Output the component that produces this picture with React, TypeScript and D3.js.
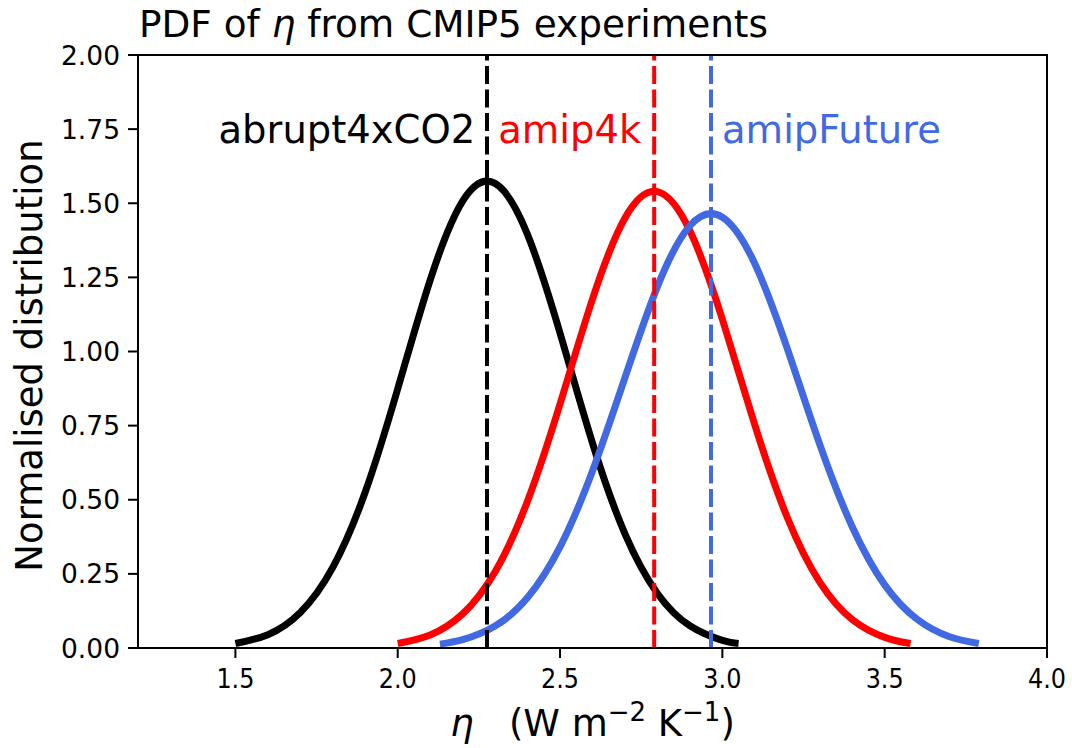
import React from "react";
import * as d3 from "d3";

// Values (x in W m^-2 K^-1, y = normalised distribution)
const abruptX = [1.5, 1.6, 1.7, 1.8, 1.9, 2.0, 2.1, 2.2, 2.3, 2.4, 2.5, 2.6, 2.7, 2.8, 2.9, 3.0, 3.05];
const abruptY = [0.015, 0.045, 0.12, 0.272, 0.526, 0.874, 1.241, 1.507, 1.567, 1.394, 1.062, 0.691, 0.385, 0.184, 0.075, 0.026, 0.015];

const amip4kX = [2.0, 2.1, 2.2, 2.3, 2.4, 2.5, 2.6, 2.7, 2.8, 2.9, 3.0, 3.1, 3.2, 3.3, 3.4, 3.5, 3.58];
const amip4kY = [0.015, 0.044, 0.115, 0.257, 0.496, 0.823, 1.177, 1.45, 1.539, 1.407, 1.109, 0.752, 0.44, 0.222, 0.096, 0.036, 0.015];

const amipFutX = [2.13, 2.2, 2.3, 2.4, 2.5, 2.6, 2.7, 2.8, 2.9, 3.0, 3.1, 3.2, 3.3, 3.4, 3.5, 3.6, 3.7, 3.79];
const amipFutY = [0.013, 0.028, 0.074, 0.17, 0.341, 0.597, 0.912, 1.219, 1.424, 1.453, 1.296, 1.01, 0.687, 0.409, 0.213, 0.097, 0.038, 0.015];

const seriesNames = ["abrupt4xCO2", "amip4k", "amipFuture"];
const seriesMeans = [2.275, 2.79, 2.965];
const seriesColors = ["#000000", "#ff0000", "#4169e1"];

const xTicks = [1.5, 2.0, 2.5, 3.0, 3.5, 4.0];
const yTicks = [0, 0.25, 0.5, 0.75, 1.0, 1.25, 1.5, 1.75, 2.0];

const W = 1072;
const H = 748;
const left = 138;
const right = 1047;
const top = 55;
const bottom = 648;
const FONT = "DejaVu Sans";

export default function App() {
  const x = d3.scaleLinear().domain([1.2, 4.0]).range([left, right]);
  const y = d3.scaleLinear().domain([0, 2]).range([bottom, top]);

  const line = d3
    .line<[number, number]>()
    .x((d) => x(d[0]))
    .y((d) => y(d[1]))
    .curve(d3.curveNatural);

  const series = [
    abruptX.map((v, i) => [v, abruptY[i]] as [number, number]),
    amip4kX.map((v, i) => [v, amip4kY[i]] as [number, number]),
    amipFutX.map((v, i) => [v, amipFutY[i]] as [number, number]),
  ];

  const labelY = 1.75;
  const labelOffset = [-0.036, -0.04, 0.034];
  const anchors = ["end", "end", "start"];

  return (
    <svg
      width={W}
      height={H}
      style={{ position: "absolute", left: 0, top: 0, background: "#fff" }}
      fontFamily={FONT}
    >
      <rect x={0} y={0} width={W} height={H} fill="#fff" />
      {/* curves */}
      {series.map((s, i) => (
        <path
          key={"c" + i}
          d={line(s) || ""}
          fill="none"
          stroke={seriesColors[i]}
          strokeWidth={7}
          strokeLinecap="butt"
          strokeLinejoin="round"
        />
      ))}
      {/* mean dashed lines */}
      {seriesMeans.map((m, i) => (
        <path
          key={"m" + i}
          d={`M${x(m)},${y(0)}L${x(m)},${y(2)}`}
          stroke={seriesColors[i]}
          strokeWidth={4}
          strokeDasharray="18,5.5"
          fill="none"
        />
      ))}
      {/* labels */}
      {seriesNames.map((n, i) => (
        <text
          key={"t" + i}
          x={x(seriesMeans[i] + labelOffset[i])}
          y={y(labelY)}
          dy="0.36em"
          fontSize={38.5}
          fill={seriesColors[i]}
          textAnchor={anchors[i]}
        >
          {n}
        </text>
      ))}
      {/* frame */}
      <rect x={left} y={top} width={right - left} height={bottom - top} fill="none" stroke="#000" strokeWidth={2} />
      {/* x ticks */}
      {xTicks.map((t) => (
        <g key={"xt" + t}>
          <line x1={x(t)} x2={x(t)} y1={bottom} y2={bottom + 10} stroke="#000" strokeWidth={2} />
          <text
            x={x(t)}
            y={bottom + 40}
            fontSize={26.5}
            textAnchor="middle"
            textLength={38}
            lengthAdjust="spacingAndGlyphs"
          >
            {t.toFixed(1)}
          </text>
        </g>
      ))}
      {/* y ticks */}
      {yTicks.map((t) => (
        <g key={"yt" + t}>
          <line x1={left - 10} x2={left} y1={y(t)} y2={y(t)} stroke="#000" strokeWidth={2} />
          <text x={left - 18} y={y(t)} dy="0.36em" fontSize={26.5} textAnchor="end">
            {t.toFixed(2)}
          </text>
        </g>
      ))}
      {/* y label */}
      <text
        transform={`translate(42,${(top + bottom) / 2 + 4}) rotate(-90)`}
        fontSize={37}
        textAnchor="middle"
      >
        Normalised distribution
      </text>
      {/* x label */}
      <text x={(left + right) / 2} y={736} fontSize={37} textAnchor="middle">
        <tspan fontStyle="italic">η</tspan>
        <tspan>{"\u00a0\u00a0\u00a0(W m"}</tspan>
        <tspan fontSize={26} dy={-15}>{"\u22122"}</tspan>
        <tspan dy={15}>{"\u00a0K"}</tspan>
        <tspan fontSize={26} dy={-15}>{"\u22121"}</tspan>
        <tspan dy={15}>)</tspan>
      </text>
      {/* title */}
      <text x={139} y={37} fontSize={37.4}>
        <tspan>PDF of </tspan>
        <tspan fontStyle="italic">η</tspan>
        <tspan> from CMIP5 experiments</tspan>
      </text>
    </svg>
  );
}
